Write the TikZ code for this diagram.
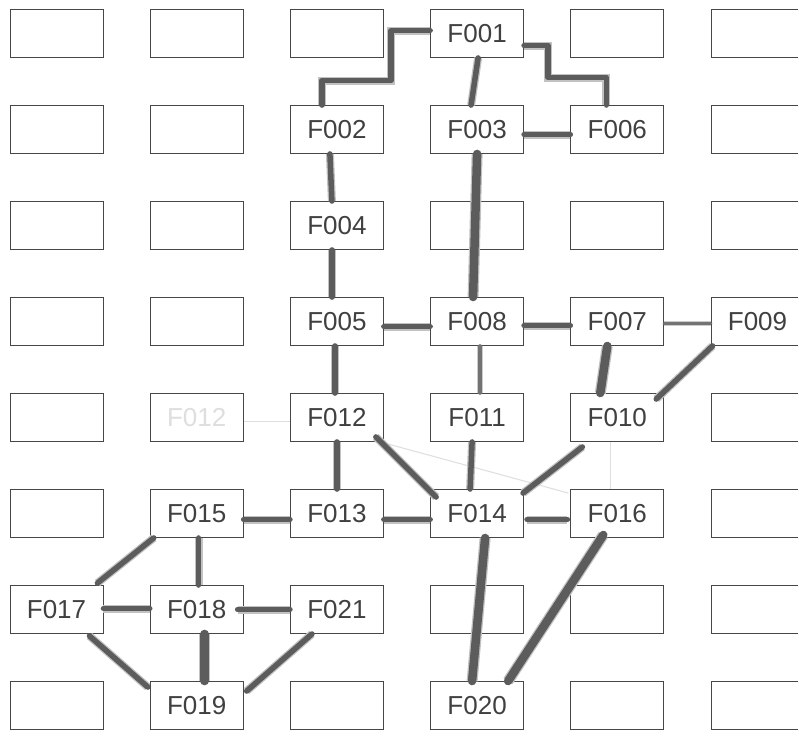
\documentclass[tikz,border=0pt]{standalone}
\usepackage{fontspec}
\setmainfont{Liberation Sans}
\usetikzlibrary{calc}
\tikzset{
  cell/.style={draw=black!72, line width=0.9pt, minimum width=93pt, minimum height=48pt,
    inner sep=0pt, text=black!75, font=\fontsize{26}{26}\selectfont},
  pencil/.style={draw=black!64, line width=5.5pt, line cap=round, line join=round,
    preaction={draw=black!24, line width=8pt}},
  heavy/.style={draw=black!64, line width=8.5pt, line cap=round, line join=round,
    preaction={draw=black!24, line width=11pt}},
  light/.style={draw=black!55, line width=3.5pt, line cap=round,
    preaction={draw=black!20, line width=5.5pt}},
  erased/.style={draw=black!13, line width=1pt},
}
\begin{document}
\begin{tikzpicture}[x=1pt,y=-1pt]
\clip (0,0) rectangle (798,731);
\fill[white] (0,0) rectangle (798,731);

% empty cells of the grid
\foreach \c/\r in {1/1,2/1,3/1,5/1,6/1, 1/2,2/2,6/2, 1/3,2/3,4/3,5/3,6/3,
                   1/4,2/4, 1/5,2/5,6/5, 1/6,6/6, 4/7,5/7,6/7, 1/8,3/8,5/8,6/8}
  \node[cell] (e\c\r) at ({56.5+140.2*(\c-1)},{33.5+96*(\r-1)}) {};

% labelled cells
\foreach \c/\r/\t in {4/1/F001, 3/2/F002, 4/2/F003, 5/2/F006, 3/3/F004,
                      3/4/F005, 4/4/F008, 5/4/F007, 6/4/F009,
                      3/5/F012, 4/5/F011, 5/5/F010,
                      2/6/F015, 3/6/F013, 4/6/F014, 5/6/F016,
                      1/7/F017, 2/7/F018, 3/7/F021, 2/8/F019, 4/8/F020}
  \node[cell] (\t) at ({56.5+140.2*(\c-1)},{33.5+96*(\r-1)}) {\t};

% rubbed-out remains
\node[text=black!13, font=\fontsize{26}{26}\selectfont] (ghost) at (e25) {F012};
\draw[erased] ($(e25.east)+(0,4)$) -- ($(F012.west)+(0,4)$);
\draw[erased] ($(F012.south east)+(4,2)$) -- ($(F016.north west)+(-2,4)$);
\draw[erased] ($(F010.south)+(-7,0)$) -- ($(F016.north)+(-7,0)$);

% stepped links from the top
\draw[pencil] ($(F001.west)+(0,-3)$) -- ++(-39,0) -- ++(0,50) -| ($(F002.north)+(-15,0)$);
\draw[pencil] ($(F001.east)+(0,12)$) -- ++(24,0) -- ++(0,32) -| ($(F006.north)+(-11,0)$);

% straight links
\draw[pencil] ($(F001.south)+(1,0)$) -- ($(F003.north)+(-6,0)$);
\draw[pencil] ($(F003.east)+(0,5)$) -- ($(F006.west)+(0,5)$);
\draw[heavy]  (F003.south) -- ($(F008.north)+(-4,0)$);
\draw[pencil] ($(F002.south)+(-7,0)$) -- ($(F004.north)+(-5,0)$);
\draw[pencil] ($(F004.south)+(-5,0)$) -- ($(F005.north)+(-5,0)$);
\draw[pencil] ($(F005.east)+(0,5)$) -- ($(F008.west)+(0,5)$);
\draw[pencil] ($(F008.east)+(0,4)$) -- ($(F007.west)+(0,4)$);
\draw[light]  ($(F007.east)+(0,2)$) -- ($(F009.west)+(0,2)$);
\draw[light]  ($(F008.south)+(3,0)$) -- ($(F011.north)+(3,0)$);
\draw[heavy]  ($(F007.south)+(-10,0)$) -- ($(F010.north)+(-17,0)$);
\draw[pencil] ($(F009.south west)+(2,0)$) -- ($(F010.north east)+(-8,6)$);
\draw[pencil] ($(F005.south)+(-2,0)$) -- ($(F012.north)+(-2,0)$);
\draw[pencil] (F012.south) -- (F013.north);
\draw[pencil] ($(F012.south east)+(-8,-5)$) -- ($(F014.north west)+(6,8)$);
\draw[pencil] ($(F011.south)+(-5,0)$) -- ($(F014.north)+(-7,0)$);
\draw[pencil] ($(F010.south west)+(12,5)$) -- ($(F014.north east)+(-1,4)$);
\draw[pencil] ($(F015.east)+(0,6)$) -- ($(F013.west)+(0,6)$);
\draw[pencil] ($(F013.east)+(0,6)$) -- ($(F014.west)+(0,6)$);
\draw[pencil] ($(F014.east)+(3,6)$) -- ($(F016.west)+(-3,6)$);
\draw[heavy]  ($(F014.south)+(8,0)$) -- ($(F020.north)+(-5,0)$);
\draw[heavy]  ($(F016.south)+(-14,-3)$) -- ($(F020.north)+(31,0)$);
\draw[pencil] ($(F015.south west)+(4,0)$) -- ($(F017.north east)+(-6,-2)$);
\draw[pencil] ($(F015.south)+(2,0)$) -- ($(F018.north)+(2,0)$);
\draw[pencil] ($(F017.east)+(0,-1)$) -- ($(F018.west)+(0,-1)$);
\draw[pencil] ($(F018.east)+(-6,0)$) -- (F021.west);
\draw[heavy]  ($(F018.south)+(8,0)$) -- ($(F019.north)+(8,0)$);
\draw[pencil] ($(F017.south east)+(-14,2)$) -- ($(F019.north west)+(-2,6)$);
\draw[pencil] ($(F021.south west)+(22,0)$) -- ($(F019.north east)+(3,10)$);
\end{tikzpicture}
\end{document}
